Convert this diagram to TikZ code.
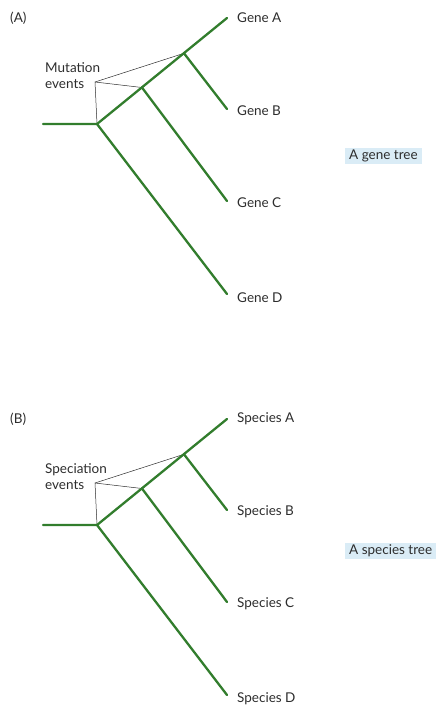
\documentclass[tikz,border=0pt]{standalone}
\usepackage{fontspec}
\setmainfont{Lato}
\definecolor{treegreen}{RGB}{50,125,45}
\definecolor{tagblue}{RGB}{218,236,246}
\definecolor{inkgray}{RGB}{45,45,45}
\tikzset{
  branch/.style={draw=treegreen,line width=2.3pt,line cap=round,line join=round},
  pointer/.style={draw=inkgray,line width=0.5pt},
  lbl/.style={font=\fontsize{13.5}{16}\selectfont,text=inkgray,inner sep=0pt},
  tiplabel/.style={lbl,anchor=west},
  taglabel/.style={lbl,fill=tagblue,inner xsep=4pt,inner ysep=1.5pt,text height=10pt,text depth=3pt,anchor=west},
  panellabel/.style={lbl,anchor=west},
  eventlabel/.style={lbl,anchor=north west,align=left}
}
\newcommand{\phylotree}[8]{%
  % #1 prefix, #2 panel, #3 event line 1, #4 event line 2, #5-#8 tip labels
  \node[panellabel] (#1panel) at (10,18) {#2};
  \coordinate (#1S) at (43,124);
  \coordinate (#1R) at (97,124);
  \coordinate (#1N1) at (142,87.5);
  \coordinate (#1N2) at (184,53.3);
  \coordinate (#1TA) at (227,18);
  \coordinate (#1TB) at (227,109);
  \coordinate (#1TC) at (227,201);
  \coordinate (#1TD) at (227,294);
  \node[tiplabel] (#1LA) at (237,18) {#5};
  \node[tiplabel] (#1LB) at (237,111) {#6};
  \node[tiplabel] (#1LC) at (237,203) {#7};
  \node[tiplabel] (#1LD) at (237,298) {#8};
  \node[eventlabel] (#1EV) at (45,62) {#3\\#4};
  \coordinate (#1E) at (95,82);
  \draw[pointer] (#1R) -- (#1E) -- (#1N2);
  \draw[pointer] (#1E) -- (#1N1);
  \draw[branch] (#1S) -- (#1R) -- (#1TA);
  \draw[branch] (#1N2) -- (#1TB);
  \draw[branch] (#1N1) -- (#1TC);
  \draw[branch] (#1R) -- (#1TD);
}
\begin{document}
\begin{tikzpicture}[x=1pt,y=-1pt]
\useasboundingbox (0,0) rectangle (444,713);
\phylotree{a}{(A)}{Mutation}{events}{Gene A}{Gene B}{Gene C}{Gene D}
\node[taglabel] (atag) at (345,155.5) {A gene tree};
\begin{scope}[shift={(0,401)}]
\phylotree{b}{(B)}{Speciation}{events}{Species A}{Species B}{Species C}{Species D}
\node[taglabel] (btag) at (345,150) {A species tree};
\end{scope}
\end{tikzpicture}
\end{document}
